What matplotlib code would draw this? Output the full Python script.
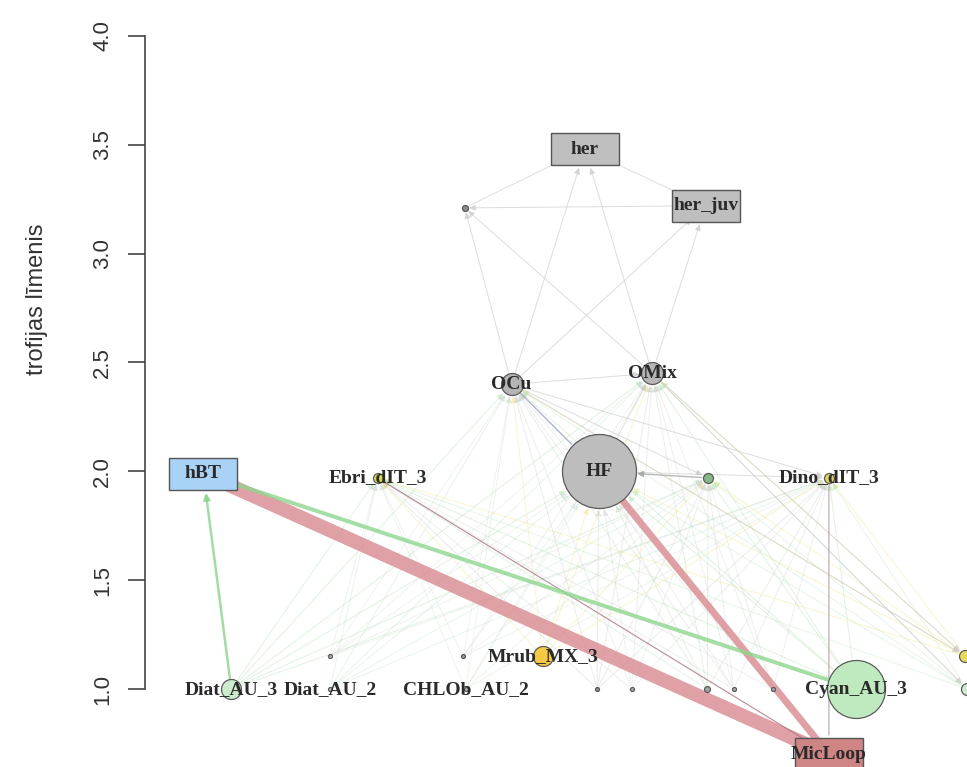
import matplotlib.pyplot as plt
from matplotlib.patches import FancyArrowPatch, Rectangle

plt.rcParams['font.family'] = ['Liberation Sans', 'DejaVu Sans']

# nodes of the web: horizontal layout position (0..1) and trophic level
node_ids = ['her', 'her_juv', 'z_top', 'OCu', 'OMix', 'hBT', 'Ebri_dIT_3', 'HF', 'cil',
            'Dino_dIT_3', 'Mrub_MX_3', 'p_a', 'p_b', 'Diat_AU_3', 'Diat_AU_2', 'CHLOb_AU_2',
            'p_1', 'p_2', 'p_3', 'p_4', 'p_5', 'Cyan_AU_3', 'r_1', 'r_2', 'MicLoop']
node_labels = ['her', 'her_juv', '', 'OCu', 'OMix', 'hBT', 'Ebri_dIT_3', 'HF', '',
               'Dino_dIT_3', 'Mrub_MX_3', '', '', 'Diat_AU_3', 'Diat_AU_2', 'CHLOb_AU_2',
               '', '', '', '', '', 'Cyan_AU_3', '', '', 'MicLoop']
node_x = [0.535, 0.682, 0.389, 0.446, 0.617, 0.071, 0.283, 0.552, 0.685,
          0.832, 0.484, 0.387, 0.225, 0.105, 0.225, 0.390,
          0.550, 0.592, 0.684, 0.716, 0.764, 0.865, 0.998, 1.000, 0.832]
trophic = [3.48, 3.22, 3.21, 2.40, 2.45, 1.99, 1.97, 2.00, 1.97,
           1.97, 1.15, 1.15, 1.15, 1.00, 1.00, 1.00,
           1.00, 1.00, 1.00, 1.00, 1.00, 1.00, 1.15, 1.00, 0.70]
node_size = [0, 0, 3, 11, 11, 0, 5, 37, 5,
             5, 10, 2, 2, 10, 2, 2,
             2, 2, 3, 2, 2, 29, 6, 6, 0]
node_shape = ['box', 'box', 'circle', 'circle', 'circle', 'box', 'circle', 'circle', 'circle',
              'circle', 'circle', 'circle', 'circle', 'circle', 'circle', 'circle',
              'circle', 'circle', 'circle', 'circle', 'circle', 'circle', 'circle', 'circle', 'box']
node_fill = ['#bebebe', '#bebebe', '#8c8c8c', '#b5b5b5', '#b5b5b5', '#a9d3f6', '#d8d94e', '#bdbdbd', '#86b886',
             '#dcd760', '#f6c945', '#9a9a9a', '#b0b0b0', '#cdeccd', '#b8b8b8', '#b8b8b8',
             '#8f8f8f', '#b0b0b0', '#9aa89a', '#b0b0b0', '#b0b0b0', '#bfeabf', '#e8dc5a', '#cdeccd', '#d08585']

# links prey -> consumer: width in px, colour, arrow head or not
main_src = ['MicLoop', 'MicLoop', 'MicLoop', 'MicLoop', 'Cyan_AU_3', 'Diat_AU_3', 'OCu', 'cil']
main_dst = ['hBT', 'HF', 'Ebri_dIT_3', 'Dino_dIT_3', 'hBT', 'hBT', 'HF', 'HF']
main_w = [14, 7, 1.2, 1.3, 4, 2.5, 1.4, 1.3]
main_col = ['#d88a90', '#d88a90', '#a87888', '#c09aa2', '#8fd68f', '#8fd28f', '#9ea2bc', '#a3a3a3']
main_head = [False, False, False, False, False, True, False, True]

top_src = ['OCu', 'OMix', 'OCu', 'OMix', 'OCu', 'OMix', 'z_top', 'her_juv', 'her_juv', 'OCu',
           'HF', 'HF', 'OCu', 'OCu', 'OMix', 'OMix', 'OCu']
top_dst = ['her', 'her', 'her_juv', 'her_juv', 'z_top', 'z_top', 'her', 'z_top', 'her', 'OMix',
           'OMix', 'Dino_dIT_3', 'Dino_dIT_3', 'r_1', 'r_1', 'r_2', 'cil']

prey_group = ['Diat_AU_3', 'Diat_AU_2', 'CHLOb_AU_2', 'p_1', 'p_2', 'p_3', 'p_4', 'p_5',
              'Cyan_AU_3', 'r_1', 'r_2', 'Mrub_MX_3', 'p_a', 'p_b']
prey_col = ['#a8dca8', '#b9e3c8', '#c9e6c9', '#c8c8c8', '#d2d2d2', '#b7dcb7', '#d2d2d2', '#d2d2d2',
            '#a8dca8', '#efe47a', '#b9e6b9', '#eee07a', '#d9d9d9', '#d9d9d9']
consumers = ['Ebri_dIT_3', 'HF', 'cil', 'Dino_dIT_3', 'OCu', 'OMix']

fig = plt.figure(figsize=(9.67, 7.67), dpi=100)
ax = fig.add_axes([145 / 967, 0, 822 / 967, 1])
ax.set_xlim(0, 1)
ax.set_ylim(0.642, 4.165)

pos = {n: (x, y) for n, x, y in zip(node_ids, node_x, trophic)}
shrink = {}
for n, s, sh in zip(node_ids, node_size, node_shape):
    shrink[n] = 14 if sh == 'box' else s * 0.72 + 1


def link(a, b, w, col, alpha, z, head=True):
    style = '-|>' if head else '-'
    arr = FancyArrowPatch(pos[a], pos[b], arrowstyle=style, mutation_scale=9,
                          shrinkA=shrink[a], shrinkB=shrink[b], lw=w * 0.72,
                          color=col, alpha=alpha, zorder=z)
    ax.add_patch(arr)


for a in prey_group:
    col = prey_col[prey_group.index(a)]
    for b in consumers:
        link(a, b, 1.0, col, 0.35, 1)

for a, b in zip(top_src, top_dst):
    link(a, b, 1.0, '#c8c8c8', 0.6, 1.5)

for a, b, w, col, hd in zip(main_src, main_dst, main_w, main_col, main_head):
    link(a, b, w, col, 0.8, 2, hd)

# nodes and labels
for n, lab, x, y, s, sh, fc in zip(node_ids, node_labels, node_x, trophic,
                                   node_size, node_shape, node_fill):
    if sh == 'box':
        bw, bh = 68 / 822, 32 / 217.7
        ax.add_patch(Rectangle((x - bw / 2, y - bh / 2), bw, bh, facecolor=fc,
                               edgecolor='#555555', lw=1, zorder=3))
    else:
        ax.scatter([x], [y], s=(2 * s * 0.72) ** 2, color=fc, edgecolor='#5a5a5a',
                   lw=0.9, zorder=3)
    if lab:
        ax.text(x, y, lab, ha='center', va='center', fontsize=14, fontweight='bold',
                family=['Liberation Serif', 'DejaVu Serif'], color='#2a2a2a', zorder=4)

# trophic level axis
ax.set_xticks([])
for side in ['top', 'right', 'bottom']:
    ax.spines[side].set_visible(False)
ax.spines['left'].set_bounds(1, 4)
ax.spines['left'].set_color('#444444')
ax.spines['left'].set_linewidth(1.2)
ax.set_yticks([1.0, 1.5, 2.0, 2.5, 3.0, 3.5, 4.0])
ax.set_yticklabels(['1.0', '1.5', '2.0', '2.5', '3.0', '3.5', '4.0'], rotation=90,
                   va='center', fontsize=16, color='#333333')
ax.tick_params(axis='y', length=12, width=1.2, color='#444444', pad=11)
ax.set_ylabel('trofijas līmenis', fontsize=17, color='#333333')
ax.yaxis.set_label_coords(-0.118, 0.61)

fig.savefig('out.png', dpi=100)
